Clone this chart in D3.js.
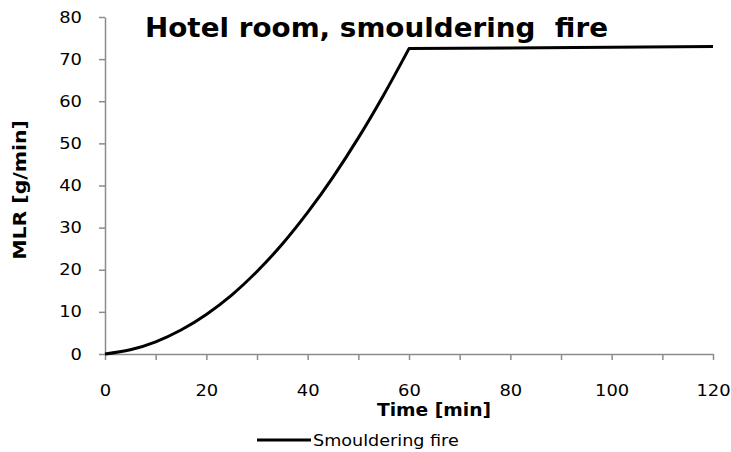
<!DOCTYPE html>
<html>
<head>
<meta charset="utf-8">
<script src="https://cdn.jsdelivr.net/npm/d3@7"></script>
<style>
  html, body { margin: 0; padding: 0; background: #fff; }
  svg { display: block; font-family: "DejaVu Sans", Verdana, sans-serif; }
</style>
</head>
<body>
<svg id="chart" width="731" height="452"></svg>
<script>
// Mass loss rate of a smouldering fire in a hotel room
const timeMin = [0, 5, 10, 15, 20, 25, 30, 35, 40, 45, 50, 55, 60, 120];
const mlrGPerMin = [0, 1.0, 2.9, 5.7, 9.4, 14.0, 19.6, 26.1, 33.6, 42.0, 51.3, 61.5, 72.5, 73.0];
const xTicks = [0, 20, 40, 60, 80, 100, 120];
const xMinorTicks = [0, 10, 20, 30, 40, 50, 60, 70, 80, 90, 100, 110, 120];
const yTicks = [0, 10, 20, 30, 40, 50, 60, 70, 80];
const seriesName = "Smouldering fire";
const plateauStart = 60;

const svg = d3.select("#chart");
const m = { left: 105, right: 713, top: 17, bottom: 354 };

const x = d3.scaleLinear().domain([0, 120]).range([m.left, m.right]);
const y = d3.scaleLinear().domain([0, 80]).range([m.bottom, m.top]);

const axisColor = "#8c8c8c";
const labelStretch = 1.12;

// y axis
const yAxis = svg.append("g")
  .attr("transform", `translate(${m.left},0)`)
  .call(d3.axisLeft(y).tickValues(yTicks).tickSize(6).tickPadding(17).tickSizeOuter(0));
yAxis.select(".domain").attr("stroke", axisColor).attr("stroke-width", 1.5);
yAxis.selectAll(".tick line").attr("stroke", axisColor).attr("stroke-width", 1.5);
yAxis.selectAll(".tick text")
  .attr("font-size", 16).attr("fill", "#000")
  .attr("font-family", "DejaVu Sans, Verdana, sans-serif")
  .attr("x", -23 / labelStretch)
  .attr("transform", `scale(${labelStretch},1)`);

// x axis
const xAxis = svg.append("g")
  .attr("transform", `translate(0,${m.bottom})`)
  .call(d3.axisBottom(x).tickValues(xMinorTicks).tickSize(6).tickPadding(25).tickSizeOuter(0)
    .tickFormat(d => xTicks.includes(d) ? d : ""));
xAxis.select(".domain").attr("stroke", axisColor).attr("stroke-width", 1.5);
xAxis.selectAll(".tick line").attr("stroke", axisColor).attr("stroke-width", 1.5);
xAxis.selectAll(".tick text")
  .attr("font-size", 16).attr("fill", "#000")
  .attr("font-family", "DejaVu Sans, Verdana, sans-serif")
  .attr("transform", `scale(${labelStretch},1)`);

// series line: smooth growth phase, then straight plateau
const pts = timeMin.map((t, i) => [t, mlrGPerMin[i]]);
const growth = pts.filter(d => d[0] <= plateauStart);
const plateau = pts.filter(d => d[0] >= plateauStart);
const growthPath = d3.line().curve(d3.curveMonotoneX).x(d => x(d[0])).y(d => y(d[1]))(growth);
const plateauPath = d3.line().x(d => x(d[0])).y(d => y(d[1]))(plateau).replace(/^M/, "L");
svg.append("path")
  .attr("fill", "none")
  .attr("stroke", "#000")
  .attr("stroke-width", 3)
  .attr("stroke-linejoin", "round")
  .attr("d", growthPath + plateauPath);

// text helper: place text at (px, py), stretched along its own baseline
function stretchedText(px, py, txt, size, weight, stretch, rotate = 0, anchor = "start") {
  return svg.append("text")
    .attr("transform", `translate(${px},${py}) rotate(${rotate}) scale(${stretch},1)`)
    .attr("text-anchor", anchor)
    .attr("font-size", size)
    .attr("font-weight", weight)
    .attr("fill", "#000")
    .style("white-space", "pre")
    .text(txt);
}

// titles
stretchedText(145, 37, "Hotel room, smouldering  fire", 26, "bold", 1.07);
stretchedText(434, 416, "Time [min]", 17, "bold", 1.1, 0, "middle");
stretchedText(26, 190, "MLR [g/min]", 17, "bold", 1.2, -90, "middle");

// legend
const lg = svg.append("g").attr("transform", "translate(257,440)");
lg.append("line").attr("x1", 0).attr("x2", 54).attr("y1", 0).attr("y2", 0)
  .attr("stroke", "#000").attr("stroke-width", 3);
stretchedText(313, 446, seriesName, 16, "normal", 1.1);
</script>
</body>
</html>
